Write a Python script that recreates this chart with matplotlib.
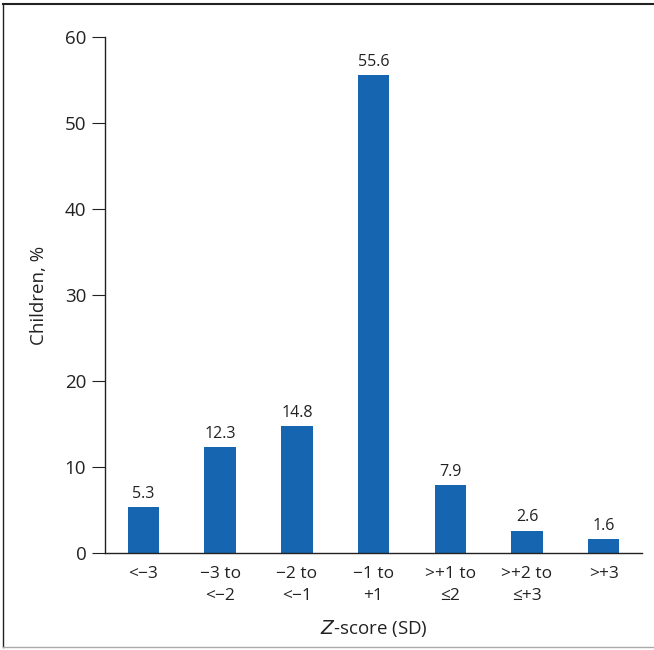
import matplotlib
matplotlib.use("Agg")
import matplotlib.pyplot as plt
from matplotlib.lines import Line2D

categories = ["<\u22123", "\u22123 to\n<\u22122", "\u22122 to\n<\u22121", "\u22121 to\n+1",
              ">+1 to\n\u22642", ">+2 to\n\u2264+3", ">+3"]
values = [5.3, 12.3, 14.8, 55.6, 7.9, 2.6, 1.6]
y_ticks = [0, 10, 20, 30, 40, 50, 60]

plt.rcParams["font.family"] = ["Open Sans", "DejaVu Sans"]
fig = plt.figure(figsize=(6.54, 6.50), dpi=100)
ax = fig.add_axes([0.1606, 0.1492, 0.8211, 0.7939])

x = list(range(len(values)))
bars = ax.bar(x, values, width=0.41, color="#1565b0")
for xi, v in zip(x, values):
    ax.text(xi, v + 0.6, f"{v:.1f}", ha="center", va="bottom", fontsize=11.5, color="#222222")

ax.set_xlim(-0.5, 6.5)
ax.set_ylim(0, 60)
ax.set_yticks(y_ticks)
ax.set_xticks(x)
ax.set_xticklabels(categories, fontsize=12.5, color="#222222", linespacing=1.55)
ax.tick_params(axis="x", length=0, pad=9)
ax.tick_params(axis="y", length=9.5, width=0.8, labelsize=13.5, colors="#222222", pad=4)
for s in ["top", "right"]:
    ax.spines[s].set_visible(False)
for s in ["left", "bottom"]:
    ax.spines[s].set_linewidth(1.0)
    ax.spines[s].set_color("#222222")

ax.set_ylabel("Children, %", fontsize=13.5, color="#222222", labelpad=12)
ax.set_xlabel("$\\mathit{Z}$-score (SD)", fontsize=13.5, color="#222222", labelpad=10)

# border around figure
fig.add_artist(Line2D([0.004, 1.0], [0.994, 0.994], color="#222222", lw=1.5))
fig.add_artist(Line2D([0.004, 0.004], [0.004, 0.994], color="#222222", lw=1.0))
fig.add_artist(Line2D([0.004, 1.0], [0.005, 0.005], color="#aaaaaa", lw=1.0))

plt.savefig("out.png", dpi=100)
